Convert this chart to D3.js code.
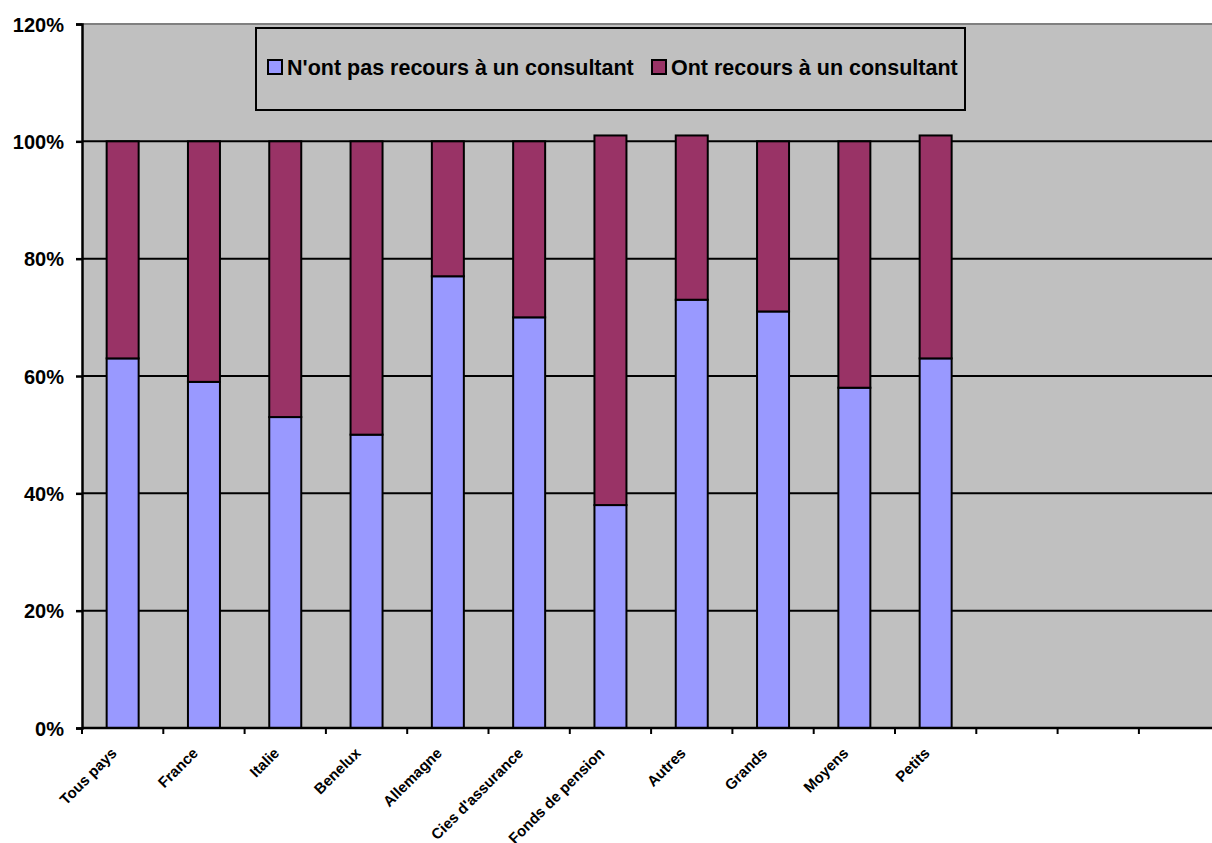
<!DOCTYPE html>
<html>
<head>
<meta charset="utf-8">
<script src="https://cdn.jsdelivr.net/npm/d3@7"></script>
<style>
  html, body { margin: 0; padding: 0; background: #ffffff; }
  svg { display: block; font-family: "Liberation Sans", Arial, sans-serif; }
</style>
</head>
<body>
<svg id="chart" width="1212" height="843"></svg>
<script>
// Catégories (les trois dernières positions de l'axe restent vides)
const categories = ["Tous pays", "France", "Italie", "Benelux", "Allemagne",
  "Cies d'assurance", "Fonds de pension", "Autres", "Grands", "Moyens", "Petits",
  "", " ", "  "];
const sansConsultant = [63, 59, 53, 50, 77, 70, 38, 73, 71, 58, 63];
const avecConsultant = [37, 41, 47, 50, 23, 30, 63, 28, 29, 42, 38];
const seriesNames = ["N'ont pas recours à un consultant", "Ont recours à un consultant"];
const yTicks = [0, 20, 40, 60, 80, 100, 120];

const colors = ["#9999FF", "#993366"];

const svg = d3.select("#chart");
const plotLeft = 82, plotTop = 24, plotBottom = 728;
const bandW = 81.3;
const plotRight = plotLeft + bandW * categories.length;

const x = d3.scaleBand().domain(categories).range([plotLeft, plotRight]).paddingInner(0).paddingOuter(0);
const y = d3.scaleLinear().domain([0, 120]).range([plotBottom, plotTop]);
const barW = 32;

// Fond de la zone de traçage
svg.append("rect")
  .attr("x", plotLeft).attr("y", plotTop)
  .attr("width", plotRight - plotLeft).attr("height", plotBottom - plotTop)
  .attr("fill", "#C0C0C0");

// Ligne supérieure grise
svg.append("line")
  .attr("x1", plotLeft).attr("x2", plotRight)
  .attr("y1", y(120)).attr("y2", y(120))
  .attr("stroke", "#808080").attr("stroke-width", 2);

// Quadrillage horizontal
svg.append("g").selectAll("line")
  .data(yTicks.filter(t => t > 0 && t < 120))
  .join("line")
  .attr("x1", plotLeft).attr("x2", plotRight)
  .attr("y1", d => y(d)).attr("y2", d => y(d))
  .attr("stroke", "#000").attr("stroke-width", 2);

// Barres empilées
const stackData = sansConsultant.map((v, i) => ({ cat: categories[i], a: v, b: avecConsultant[i] }));
const stack = d3.stack().keys(["a", "b"])(stackData);

svg.append("g").selectAll("g")
  .data(stack)
  .join("g")
  .attr("fill", (d, i) => colors[i])
  .selectAll("rect")
  .data(d => d)
  .join("rect")
  .attr("x", d => x(d.data.cat) + (x.bandwidth() - barW) / 2)
  .attr("y", d => y(d[1]))
  .attr("width", barW)
  .attr("height", d => y(d[0]) - y(d[1]))
  .attr("stroke", "#000")
  .attr("stroke-width", 2);

// Axe vertical
const yAxis = svg.append("g")
  .attr("transform", `translate(${plotLeft},0)`)
  .call(d3.axisLeft(y).tickValues(yTicks).tickFormat(d => d + "%").tickSize(6).tickPadding(12));
yAxis.select(".domain").attr("stroke", "#000").attr("stroke-width", 2.5);
yAxis.selectAll(".tick line").attr("stroke", "#000").attr("stroke-width", 2.5);
yAxis.selectAll(".tick text")
  .attr("font-size", "20px").attr("font-weight", "bold")
  .attr("font-family", "Liberation Sans, Arial, sans-serif")
  .attr("fill", "#000").attr("dy", "0.36em");

// Axe horizontal : graduations aux limites des catégories
const xAxisG = svg.append("g");
xAxisG.append("line")
  .attr("x1", plotLeft).attr("x2", plotRight)
  .attr("y1", plotBottom).attr("y2", plotBottom)
  .attr("stroke", "#000").attr("stroke-width", 2.5);
xAxisG.selectAll("line.tick")
  .data(categories)
  .join("line")
  .attr("class", "tick")
  .attr("x1", d => x(d)).attr("x2", d => x(d))
  .attr("y1", plotBottom).attr("y2", plotBottom + 6)
  .attr("stroke", "#000").attr("stroke-width", 2);

// Libellés des catégories inclinés à 45°
xAxisG.selectAll("text")
  .data(categories.filter(c => c.trim() !== ""))
  .join("text")
  .attr("transform", d => `translate(${x(d) + x.bandwidth() / 2 - 5},${plotBottom + 26}) rotate(-45)`)
  .attr("text-anchor", "end")
  .attr("font-size", "15px")
  .attr("font-weight", "bold")
  .attr("fill", "#000")
  .text(d => d);

// Légende
const legend = svg.append("g");
legend.append("rect")
  .attr("x", 256).attr("y", 28).attr("width", 709).attr("height", 82)
  .attr("fill", "#C0C0C0").attr("stroke", "#000").attr("stroke-width", 2);
const legendX = [268, 652];
seriesNames.forEach((name, i) => {
  legend.append("rect")
    .attr("x", legendX[i]).attr("y", 60).attr("width", 14).attr("height", 14)
    .attr("fill", colors[i]).attr("stroke", "#000").attr("stroke-width", 2);
  legend.append("text")
    .attr("x", legendX[i] + 19).attr("y", 75)
    .attr("font-size", "21.5px").attr("font-weight", "bold").attr("fill", "#000")
    .text(name);
});
</script>
</body>
</html>
